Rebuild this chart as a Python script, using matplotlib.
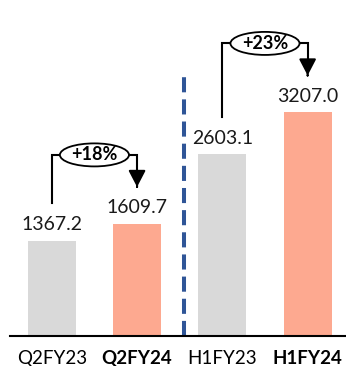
import matplotlib
matplotlib.use('Agg')
import matplotlib.pyplot as plt
from matplotlib.patches import Ellipse

# Revenue figures per period
periods = ['Q2FY23', 'Q2FY24', 'H1FY23', 'H1FY24']
values = [1367.2, 1609.7, 2603.1, 3207.0]
growth = ['+18%', '+23%']
bar_colors = ['#D9D9D9', '#FDA990', '#D9D9D9', '#FDA990']

plt.rcParams['font.family'] = ['Lato', 'DejaVu Sans']

fig = plt.figure(figsize=(3.46, 3.66), dpi=100)
ax = fig.add_axes([10/346, 30/366, 336/346, 336/366])

x = list(range(len(periods)))
ax.bar(x, values, width=0.56, color=bar_colors)

# Value labels above each bar
for xi, v in zip(x, values):
    ax.annotate('%.1f' % v, (xi, v), xytext=(0, 11.5), textcoords='offset points',
                ha='center', va='center', fontsize=14, color='#1a1a1a')

# Growth brackets between each pair of bars, arrow pointing down at the newer bar
for i, label in enumerate(growth):
    a = 2 * i
    b = a + 1
    start = values[a] + 540
    top = values[b] + 985
    tip = values[b] + 525
    ax.plot([a, a, b, b], [start, top, top, tip + 150], color='black', lw=1.5,
            solid_joinstyle='miter', zorder=3)
    ax.annotate('', xy=(b, tip), xytext=(b, tip + 1),
                arrowprops=dict(arrowstyle='-|>,head_length=1.0,head_width=0.52',
                                color='black', lw=1.5, shrinkA=0, shrinkB=0),
                zorder=4)
    mid = (a + b) / 2
    ax.add_patch(Ellipse((mid, top), 0.81, 330, facecolor='white',
                         edgecolor='black', lw=1.3, zorder=5))
    ax.text(mid, top, label, ha='center', va='center', fontsize=13,
            fontweight='bold', zorder=6)

# Divider between quarter and half-year comparisons
ax.plot([1.55, 1.55], [0, 3750], color='#2F5597', lw=2.9,
        linestyle=(0, (3.75, 1.75)), zorder=2)

ax.set_xlim(-0.49, 3.45)
ax.set_ylim(0, 4814)
ax.set_xticks(x)
ax.set_xticklabels(periods, fontsize=13.5)
for lbl in ax.get_xticklabels()[1::2]:
    lbl.set_fontweight('bold')
ax.tick_params(axis='x', length=0, pad=10)
ax.set_yticks([])
for s in ['top', 'left', 'right']:
    ax.spines[s].set_visible(False)
ax.spines['bottom'].set_linewidth(1.5)
ax.patch.set_alpha(0)

plt.savefig('out.png', dpi=100)
